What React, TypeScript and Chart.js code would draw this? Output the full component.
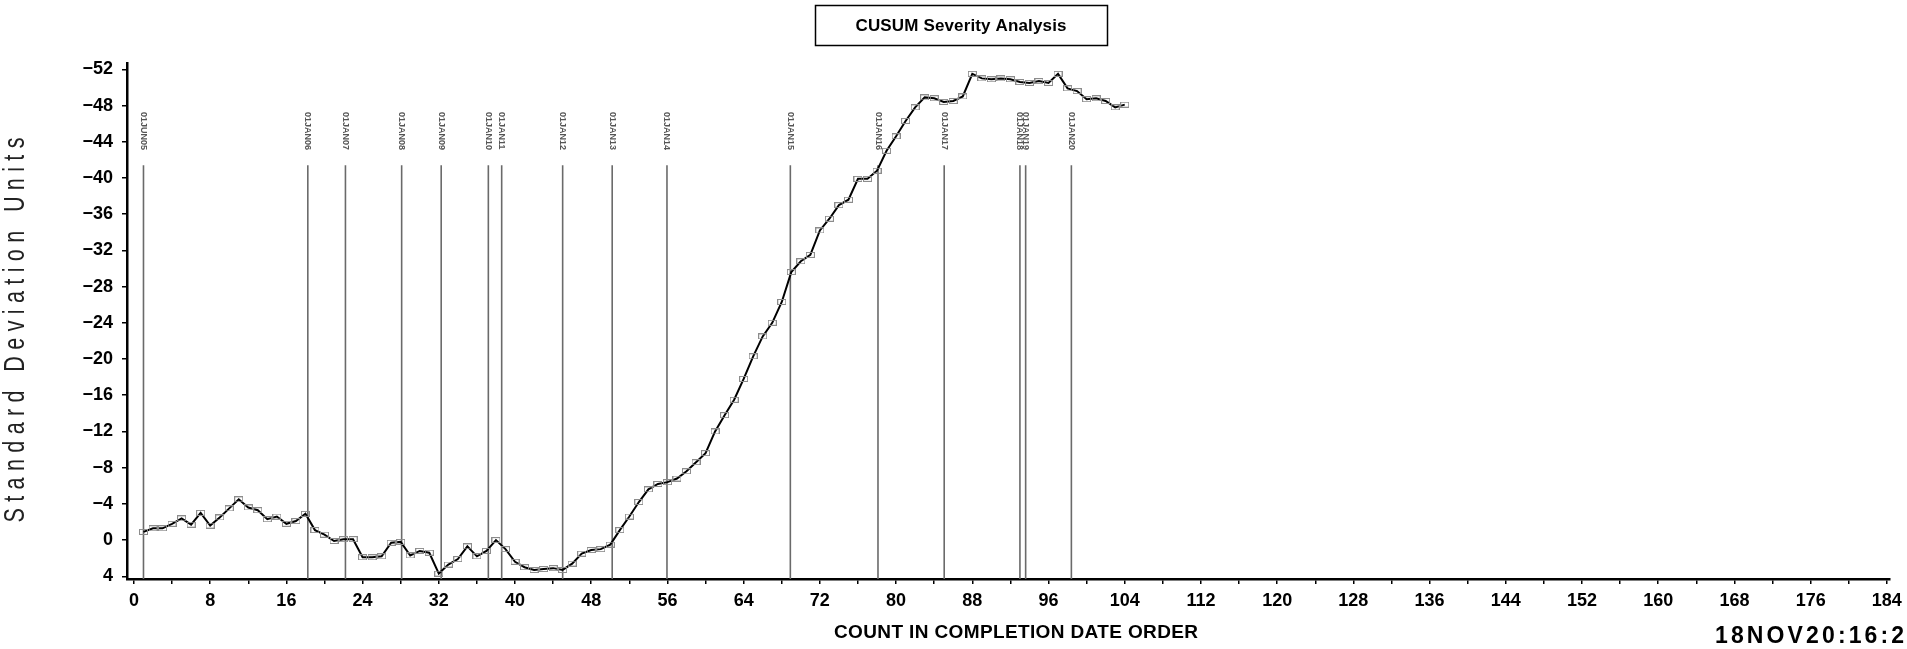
import React, { useEffect, useRef } from "react";
import { Chart, registerables } from "chart.js";

Chart.register(...registerables);

// CUSUM value for each count (1..104)
const cusumValues = [
  -0.9, -1.3, -1.3, -1.8, -2.4, -1.7, -3.0, -1.6, -2.5, -3.5,
  -4.5, -3.6, -3.3, -2.3, -2.6, -1.8, -2.1, -2.9, -1.1, -0.6,
  0.1, -0.1, -0.1, 1.9, 1.9, 1.8, 0.3, 0.2, 1.7, 1.2,
  1.4, 3.7, 2.7, 2.1, 0.7, 1.8, 1.2, 0.0, 1.0, 2.4,
  3.0, 3.3, 3.2, 3.1, 3.3, 2.6, 1.5, 1.1, 1.0, 0.5,
  -1.1, -2.6, -4.2, -5.6, -6.2, -6.4, -6.8, -7.6, -8.6, -9.6,
  -12.0, -13.8, -15.5, -17.8, -20.3, -22.5, -24.0, -26.3, -29.6, -30.8,
  -31.5, -34.2, -35.5, -37.0, -37.6, -39.9, -39.9, -40.8, -43.0, -44.6,
  -46.3, -47.8, -48.9, -48.8, -48.4, -48.5, -49.0, -51.5, -51.0, -50.9,
  -51.0, -50.9, -50.6, -50.5, -50.7, -50.5, -51.5, -49.9, -49.6, -48.7,
  -48.8, -48.5, -47.8, -48.1,
];

// vertical reference lines (count position) and their labels
const refLineCounts = [1, 18.25, 22.2, 28.1, 32.25, 37.2, 38.6, 45, 50.2, 55.95, 68.9, 78.1, 85.05, 93, 93.6, 98.4];
const refLineLabels = [
  "01JUN05", "01JAN06", "01JAN07", "01JAN08", "01JAN09", "01JAN10", "01JAN11", "01JAN12",
  "01JAN13", "01JAN14", "01JAN15", "01JAN16", "01JAN17", "01JAN18", "01JAN19", "01JAN20",
];
const refLineBottom = 4.3;
const refLineTop = -41.4;
const refLabelTop = -47.3;

const xTickValues = [
  0, 4, 8, 12, 16, 20, 24, 28, 32, 36, 40, 44, 48, 52, 56, 60, 64, 68, 72, 76, 80, 84, 88, 92,
  96, 100, 104, 108, 112, 116, 120, 124, 128, 132, 136, 140, 144, 148, 152, 156, 160, 164, 168,
  172, 176, 180, 184,
];
const xLabelEvery = 8;
const yTickValues = [-52, -48, -44, -40, -36, -32, -28, -24, -20, -16, -12, -8, -4, 0, 4];

const TITLE = "CUSUM Severity Analysis";
const Y_TITLE = "Standard Deviation Units";
const X_TITLE = "COUNT IN COMPLETION DATE ORDER";
const STAMP = "18NOV20:16:20";

const FAMILY = '"Liberation Sans", Arial, sans-serif';

function drawFitted(
  ctx: CanvasRenderingContext2D,
  text: string,
  cx: number,
  cy: number,
  width: number,
  font: string,
  color: string,
  rot = 0,
  align: "center" | "left" = "center",
  squeeze = 1
) {
  ctx.save();
  ctx.font = font;
  (ctx as any).letterSpacing = "0px";
  const target = width / squeeze;
  const w = ctx.measureText(text).width;
  const ls = (target - w) / Math.max(1, text.length - 1);
  (ctx as any).letterSpacing = ls + "px";
  ctx.fillStyle = color;
  ctx.textAlign = "left";
  ctx.textBaseline = "middle";
  ctx.translate(cx, cy);
  ctx.rotate(rot);
  ctx.scale(squeeze, 1);
  const start = align === "center" ? -target / 2 : 0;
  ctx.fillText(text, start, 0);
  ctx.restore();
}

const decorPlugin = {
  id: "decor",
  afterDatasetsDraw(chart: any) {
    const ctx = chart.ctx as CanvasRenderingContext2D;
    const xs = chart.scales.x;
    const ys = chart.scales.y;
    ctx.save();
    ctx.font = `bold 9px ${FAMILY}`;
    ctx.fillStyle = "#555";
    ctx.textAlign = "left";
    ctx.textBaseline = "middle";
    refLineCounts.forEach((c, i) => {
      const px = xs.getPixelForValue(c);
      const py = ys.getPixelForValue(refLabelTop);
      ctx.save();
      ctx.translate(px, py);
      ctx.rotate(Math.PI / 2);
      ctx.fillText(refLineLabels[i], 0, 0);
      ctx.restore();
    });
    ctx.restore();
  },
  afterDraw(chart: any) {
    const ctx = chart.ctx as CanvasRenderingContext2D;
    ctx.save();
    ctx.strokeStyle = "#000";
    ctx.lineWidth = 1.5;
    ctx.strokeRect(815.5, 5.5, 292, 40);
    ctx.restore();
    drawFitted(ctx, TITLE, 961, 26, 211, `bold 17px ${FAMILY}`, "#000");
    drawFitted(ctx, Y_TITLE, 16, 330, 385, `30px ${FAMILY}`, "#222", -Math.PI / 2, "center", 0.72);
    drawFitted(ctx, X_TITLE, 1016, 633, 364, `bold 19px ${FAMILY}`, "#000");
    drawFitted(ctx, STAMP, 1715, 637, 205, `bold 23px ${FAMILY}`, "#000", 0, "left");
  },
};

export default function App() {
  const canvasRef = useRef<HTMLCanvasElement | null>(null);

  useEffect(() => {
    const canvas = canvasRef.current;
    if (!canvas) return;

    const marker = document.createElement("canvas");
    marker.width = 9;
    marker.height = 6;
    const mctx = marker.getContext("2d")!;
    mctx.strokeStyle = "#8c8c8c";
    mctx.lineWidth = 1;
    mctx.strokeRect(0.5, 0.5, 8, 5);

    const curve = {
      label: "CUSUM",
      data: cusumValues.map((v, i) => ({ x: i + 1, y: v })),
      borderColor: "#000",
      borderWidth: 2,
      tension: 0,
      pointStyle: marker as any,
      pointRadius: 4,
      order: 0,
    };

    const refs = refLineCounts.map((c, i) => ({
      label: refLineLabels[i],
      data: [
        { x: c, y: refLineBottom },
        { x: c, y: refLineTop },
      ],
      borderColor: "#6a6a6a",
      borderWidth: 1.6,
      pointRadius: 0,
      order: 2,
    }));

    const tickFont = { family: FAMILY, size: 18, weight: "bold" as const };

    const chart = new Chart(canvas, {
      type: "line",
      data: { datasets: [curve as any, ...refs] },
      options: {
        responsive: false,
        animation: false,
        devicePixelRatio: 1,
        layout: { padding: { top: 63, right: 17, left: 0, bottom: 0 } },
        plugins: {
          legend: { display: false },
          tooltip: { enabled: false },
        },
        scales: {
          x: {
            type: "linear",
            min: -0.73,
            max: 184.33,
            afterBuildTicks: (s: any) => {
              s.ticks = xTickValues.map((v) => ({ value: v }));
            },
            afterFit: (s: any) => {
              s.height = 70;
              s.paddingLeft = 0;
              s.paddingRight = 0;
            },
            ticks: {
              autoSkip: false,
              maxRotation: 0,
              padding: 6,
              color: "#000",
              font: tickFont,
              callback: (v: any) => (Number(v) % xLabelEvery === 0 ? String(v) : ""),
            },
            grid: { drawOnChartArea: false, tickLength: 5, color: "#000", lineWidth: 1.5 },
            border: { color: "#000", width: 2.5 },
          },
          y: {
            type: "linear",
            reverse: true,
            min: -52.7,
            max: 4.3,
            afterBuildTicks: (s: any) => {
              s.ticks = yTickValues.map((v) => ({ value: v }));
            },
            afterFit: (s: any) => {
              s.width = 127;
              s.paddingTop = 0;
              s.paddingBottom = 0;
            },
            ticks: {
              padding: 9,
              color: "#000",
              font: tickFont,
              callback: (v: any) => (Number(v) < 0 ? "\u2212" + Math.abs(Number(v)) : String(v)),
            },
            grid: { drawOnChartArea: false, tickLength: 5, color: "#000", lineWidth: 1.5 },
            border: { color: "#000", width: 2.5 },
          },
        },
      },
      plugins: [decorPlugin as any],
    });

    return () => chart.destroy();
  }, []);

  return (
    <div
      style={{
        position: "fixed",
        left: 0,
        top: 0,
        width: 1907,
        height: 649,
        background: "#fff",
        overflow: "hidden",
      }}
    >
      <canvas ref={canvasRef} width={1907} height={649} style={{ width: 1907, height: 649, display: "block" }} />
    </div>
  );
}
